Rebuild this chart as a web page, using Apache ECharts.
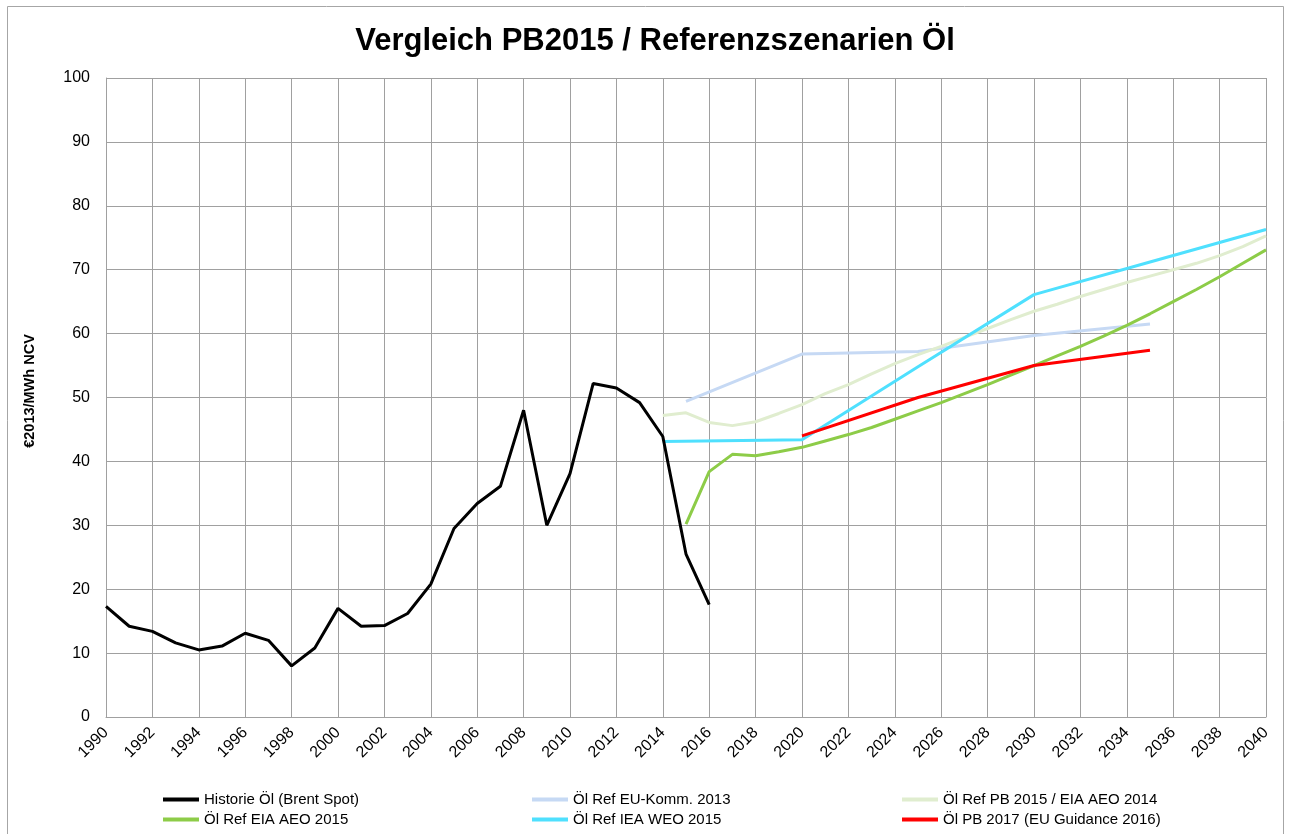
<!DOCTYPE html>
<html>
<head>
<meta charset="utf-8">
<script src="https://cdn.jsdelivr.net/npm/echarts@6/dist/echarts.min.js"></script>
<style>
html,body{margin:0;padding:0;background:#fff;}
#main{width:1290px;height:834px;}
</style>
</head>
<body>
<div id="main"></div>
<script>
// Historie Öl (Brent Spot)
var histYears = [1990,1991,1992,1993,1994,1995,1996,1997,1998,1999,2000,2001,2002,2003,2004,2005,2006,2007,2008,2009,2010,2011,2012,2013,2014,2015,2016];
var histValues = [17.3,14.2,13.4,11.6,10.5,11.1,13.1,12.0,8.0,10.8,17.0,14.2,14.3,16.2,20.8,29.5,33.4,36.1,48.0,30.0,38.1,52.2,51.5,49.2,43.9,25.5,17.6];

// Öl Ref EU-Komm. 2013
var euYears = [2015,2020,2025,2030,2035];
var euValues = [49.4,56.8,57.2,59.7,61.5];

// Öl Ref PB 2015 / EIA AEO 2014
var pbYears = [2014,2015,2016,2017,2018,2019,2020,2021,2022,2023,2024,2025,2026,2027,2028,2029,2030,2031,2032,2033,2034,2035,2036,2037,2038,2039,2040];
var pbValues = [47.2,47.6,46.1,45.6,46.2,47.5,48.9,50.6,52.0,53.7,55.3,56.7,58.0,59.4,60.8,62.2,63.5,64.6,65.8,66.9,68.0,69.0,70.0,71.0,72.2,73.6,75.3];

// Öl Ref EIA AEO 2015
var eiaYears = [2015,2016,2017,2018,2019,2020,2021,2022,2023,2024,2025,2026,2027,2028,2029,2030,2031,2032,2033,2034,2035,2036,2037,2038,2039,2040];
var eiaValues = [30.2,38.4,41.1,40.9,41.5,42.2,43.2,44.2,45.3,46.6,47.9,49.2,50.6,52.0,53.5,55.0,56.5,58.0,59.6,61.3,63.1,65.0,66.9,68.9,71.0,73.1];

// Öl Ref IEA WEO 2015
var ieaYears = [2014,2020,2025,2030,2035,2040];
var ieaValues = [43.1,43.4,54.8,66.1,71.2,76.3];

// Öl PB 2017 (EU Guidance 2016)
var redYears = [2020,2025,2030,2035];
var redValues = [44.0,50.0,55.0,57.4];

function pairs(xs, ys){
	var out = [];
	for(var i=0;i<xs.length;i++){
		out.push([xs[i], ys[i]]);
	}
	return out;
}

var myChart = echarts.init(document.getElementById('main'));

function line(name, color, xs, ys){
	return {
		name: name,
		type: 'line',
		data: pairs(xs, ys),
		symbol: 'none',
		smooth: false,
		lineStyle: { color: color, width: 3 },
		itemStyle: { color: color }
	};
}

var font = 'Liberation Sans, Arial';
var legendText = { fontFamily: font, fontSize: 15, color: '#000' };

option = {
	animation: false,
	textStyle: { fontFamily: font },
	title: {
		text: 'Vergleich PB2015 / Referenzszenarien Öl',
		left: 650,
		textAlign: 'center',
		top: 21,
		textStyle: { fontSize: 31, fontWeight: 'bold', color: '#000', fontFamily: font }
	},
	graphic: [{
		type: 'rect',
		shape: { x: 7.5, y: 6.5, width: 1276, height: 840 },
		style: { fill: 'none', stroke: '#a6a6a6', lineWidth: 1 }
	}, {
		// y axis name
		type: 'text',
		x: 30,
		y: 391,
		rotation: Math.PI / 2,
		style: {
			text: '€2013/MWh NCV',
			font: 'bold 14.5px ' + font,
			fill: '#000',
			align: 'center',
			verticalAlign: 'middle'
		}
	}],
	legend: [
		{ left: 158, top: 787, orient: 'vertical', itemGap: 5, itemWidth: 36, itemHeight: 4, icon: 'rect', textStyle: legendText,
		  data: ['Historie Öl (Brent Spot)', 'Öl Ref EIA AEO 2015'] },
		{ left: 527, top: 787, orient: 'vertical', itemGap: 5, itemWidth: 36, itemHeight: 4, icon: 'rect', textStyle: legendText,
		  data: ['Öl Ref EU-Komm. 2013', 'Öl Ref IEA WEO 2015'] },
		{ left: 897, top: 787, orient: 'vertical', itemGap: 5, itemWidth: 36, itemHeight: 4, icon: 'rect', textStyle: legendText,
		  data: ['Öl Ref PB 2015 / EIA AEO 2014', 'Öl PB 2017 (EU Guidance 2016)'] }
	],
	grid: { left: 106, right: 24, top: 78, bottom: 117 },
	xAxis: {
		type: 'value',
		min: 1990,
		max: 2040,
		interval: 2,
		axisLine: { show: true, lineStyle: { color: '#a0a0a0', width: 1 } },
		axisTick: { show: false },
		splitLine: { show: true, lineStyle: { color: '#a0a0a0', width: 1 } },
		axisLabel: { rotate: 45, color: '#000', fontSize: 16, margin: 13, formatter: function(v){ return String(v); } }
	},
	yAxis: {
		type: 'value',
		min: 0,
		max: 100,
		interval: 10,
		axisLine: { show: true, lineStyle: { color: '#a0a0a0', width: 1 } },
		axisTick: { show: false },
		splitLine: { show: true, lineStyle: { color: '#a0a0a0', width: 1 } },
		axisLabel: { color: '#000', fontSize: 16, margin: 16 }
	},
	series: [
		line('Öl Ref EU-Komm. 2013', '#c6d9f4', euYears, euValues),
		line('Öl Ref PB 2015 / EIA AEO 2014', '#e0edcf', pbYears, pbValues),
		line('Öl Ref EIA AEO 2015', '#8dcc48', eiaYears, eiaValues),
		line('Öl Ref IEA WEO 2015', '#4fe0fe', ieaYears, ieaValues),
		line('Öl PB 2017 (EU Guidance 2016)', '#ff0000', redYears, redValues),
		line('Historie Öl (Brent Spot)', '#000000', histYears, histValues)
	]
};

myChart.setOption(option);
</script>
</body>
</html>
